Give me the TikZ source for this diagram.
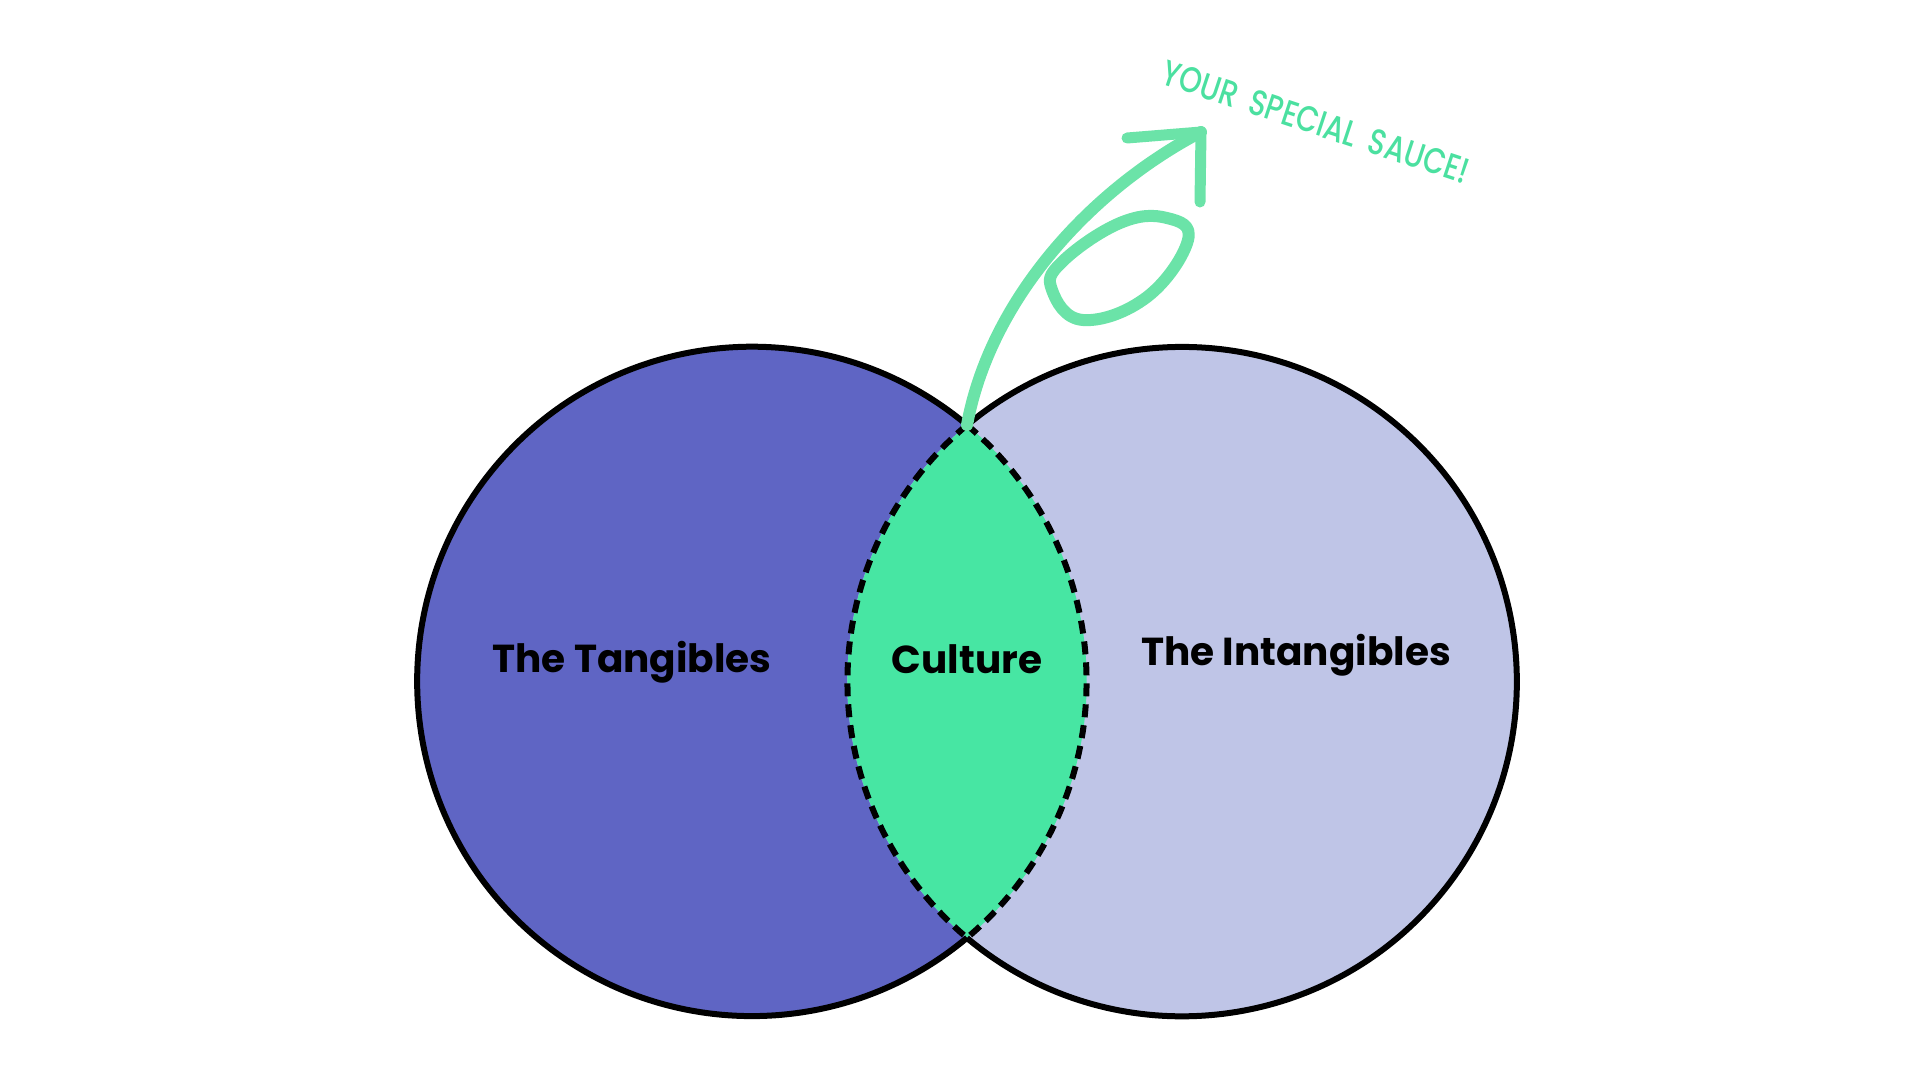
\documentclass[tikz,border=0pt]{standalone}
\usepackage{fontspec}
\setmainfont{Poppins}
\newfontfamily\handfont{Poppins}[UprightFont=* Medium, FakeStretch=0.8]
\definecolor{tangC}{HTML}{5F65C4}
\definecolor{intC}{HTML}{BFC5E7}
\definecolor{lensC}{HTML}{47E6A3}
\definecolor{arrowC}{HTML}{6BE3A8}
\definecolor{handC}{HTML}{4BE0A0}
\tikzset{
  outline/.style={line width=6pt, black},
  lensline/.style={line width=6pt, black, dash pattern=on 13pt off 8pt},
  label/.style={font=\fontsize{39}{47}\selectfont\bfseries, text=black, inner sep=0pt, anchor=base},
  sauce/.style={line width=12pt, arrowC, line cap=round, line join=round},
}
\begin{document}
\begin{tikzpicture}[x=1pt,y=-1pt]
\useasboundingbox (0,0) rectangle (1920,1080);
\def\R{334.7}
\coordinate (L) at (752,681.5);
\coordinate (Rc) at (1182,681.5);
\coordinate (top) at (967,425);
\coordinate (bot) at (967,938);
% fills
\fill[tangC] (L) circle (\R);
\fill[intC] (Rc) circle (\R);
\begin{scope}
  \clip (L) circle (\R);
  \fill[lensC] (Rc) circle (\R);
\end{scope}
% outlines
\draw[outline] (top) arc[start angle=-50, end angle=-310, radius=\R];
\draw[outline] (bot) arc[start angle=130, end angle=-130, radius=\R];
\draw[lensline] (top) arc[start angle=230, end angle=130, radius=\R];
\draw[lensline] (top) arc[start angle=-50, end angle=50, radius=\R];
% labels
\node[label] (tang) at (632,672) {The Tangibles};
\node[label] (cult) at (967,673) {Culture};
\node[label] (intang) at (1296,665) {The Intangibles};
% arrow
\coordinate (tip) at (1201,132);
\draw[sauce] (top) .. controls (990,300) and (1090,190) .. (tip);
\draw[sauce] plot[smooth cycle, tension=0.7] coordinates {(1052,290) (1083,320) (1147,297) (1188,240) (1167,218) (1120,223) (1062,262)};
\coordinate (barbA) at (1127,138);
\coordinate (barbB) at (1200,202);
\draw[sauce, line width=11pt] (barbA) -- (tip) -- (barbB);
% note
\node[text=handC, rotate=-18.3, inner sep=0pt, font=\handfont\fontsize{36}{42}\selectfont] (note) at (1316,122) {YOUR\hspace{6pt} SPECIAL\hspace{6pt} SAUCE!};
\end{tikzpicture}
\end{document}
